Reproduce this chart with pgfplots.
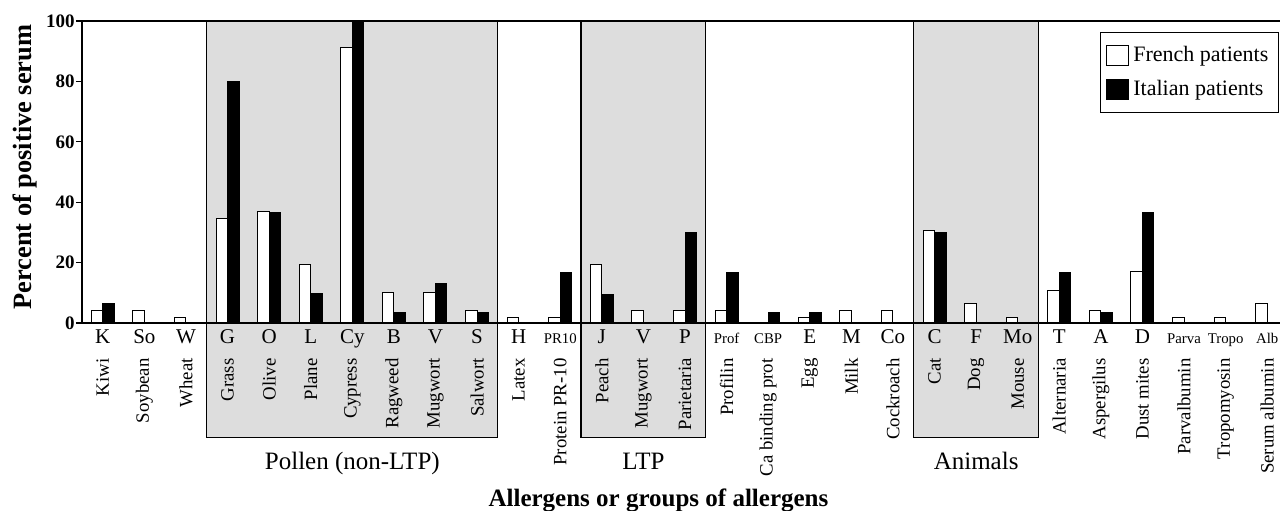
\documentclass[border=0pt]{standalone}
\usepackage{pgfplots}
\pgfplotsset{compat=1.18}
\usepackage{fontspec}
\setmainfont{Liberation Serif}

\definecolor{boxgray}{RGB}{221,221,221}
\newcommand\abbr{\fontsize{10.5}{12}\selectfont}
\newcommand\smallabbr{\fontsize{7.4}{8}\selectfont}
\newcommand\namefont{\fontsize{9.4}{11}\selectfont}
\newcommand\grpfont{\fontsize{12.5}{14}\selectfont}

\begin{document}
\begin{tikzpicture}
\begin{axis}[
    at={(41pt,93.5pt)}, anchor=south west,
    scale only axis,
    width=603pt, height=151pt,
    xmin=-0.5, xmax=28.5,
    ymin=0, ymax=100,
    clip=false,
    axis on top,
    axis line style={line width=0.8pt},
    ybar=0pt,
    bar width=5.75pt,
    ytick={0,20,40,60,80,100},
    ytick pos=left,
    tick align=outside,
    major tick length=3pt,
    tick style={black, line width=0.6pt},
    yticklabel style={font=\bfseries\fontsize{9.5}{11}\selectfont, anchor=east, inner sep=0.5pt},
    /pgf/number format/assume math mode=true,
    xtick={0,1,...,28},
    xtick style={draw=none},
    xticklabels={K,So,W,G,O,L,Cy,B,V,S,H,{\smallabbr PR10},J,V,P,{\smallabbr Prof},{\smallabbr CBP},E,M,Co,C,F,Mo,T,A,D,{\smallabbr Parva},{\smallabbr Tropo},{\smallabbr Alb}},
    xticklabel style={font=\abbr, anchor=base, yshift=-7pt},
    extra x ticks={0,1,...,28},
    extra x tick labels={Kiwi,Soybean,Wheat,Grass,Olive,Plane,Cypress,Ragweed,Mugwort,Salwort,Latex,Protein PR-10,Peach,Mugwort,Parietaria,Profilin,Ca binding prot,Egg,Milk,Cockroach,Cat,Dog,Mouse,Alternaria,Aspergilus,Dust mites,Parvalbumin,Tropomyosin,Serum albumin},
    extra x tick style={xtick style={draw=none}, xticklabel style={font=\namefont, yshift=-7.5pt, rotate=90, anchor=east, inner sep=0pt}},
    ylabel={\bfseries Percent of positive serum},
    ylabel style={font=\fontsize{13.2}{15}\selectfont, at={(axis description cs:-0.0473,0.5166)}, anchor=center},
    xlabel={\bfseries Allergens or groups of allergens},
    xlabel style={font=\fontsize{12.5}{14}\selectfont, at={(axis description cs:0.478,0)}, anchor=center, yshift=-88.5pt},
    legend style={at={(0.844,0.964)}, anchor=north west, draw=black, line width=0.5pt,
        font=\fontsize{11}{13}\selectfont, row sep=4pt, inner xsep=3pt, inner ysep=5pt},
    legend cell align=left,
    legend image code/.code={\draw[#1, line width=0.5pt] (0pt,-5pt) rectangle (11pt,5pt);},
]

% shaded groups
\draw[fill=boxgray, line width=0.6pt] (axis cs:2.5,-38) rectangle (axis cs:9.5,100);
\draw[fill=boxgray, line width=0.6pt] (axis cs:11.5,-38) rectangle (axis cs:14.5,100);
\draw[fill=boxgray, line width=0.6pt] (axis cs:19.5,-38) rectangle (axis cs:22.5,100);

% French patients
\addplot[draw=black, fill=white, line width=0.5pt] coordinates {
 (0,4.3) (1,4.3) (2,1.9) (3,34.5) (4,36.8) (5,19.4) (6,91.2) (7,10.2) (8,10.2) (9,4.3)
 (10,1.9) (11,1.9) (12,19.3) (13,4.3) (14,4.3) (15,4.3) (17,1.9) (18,4.3) (19,4.3)
 (20,30.5) (21,6.3) (22,1.9) (23,10.6) (24,4.3) (25,17) (26,1.9) (27,1.9) (28,6.3)};
\addlegendentry{French patients\hspace{30pt}}

% Italian patients
\addplot[draw=black, fill=black, line width=0.5pt] coordinates {
 (0,6.3) (3,80) (4,36.5) (5,9.8) (6,100) (7,3.4) (8,13.1) (9,3.4)
 (11,16.7) (12,9.6) (14,30) (15,16.7) (16,3.4) (17,3.4)
 (20,30) (23,16.7) (24,3.4) (25,36.5)};
\addlegendentry{Italian patients}

\node[font=\grpfont, anchor=base] at (axis cs:6,-48.4) {Pollen (non-LTP)};
\node[font=\grpfont, anchor=base] at (axis cs:13,-48.4) {LTP};
\node[font=\grpfont, anchor=base] at (axis cs:21,-48.4) {Animals};
\end{axis}
\pgfresetboundingbox
\useasboundingbox (0,0) rectangle (640pt,255pt);
\end{tikzpicture}
\end{document}
